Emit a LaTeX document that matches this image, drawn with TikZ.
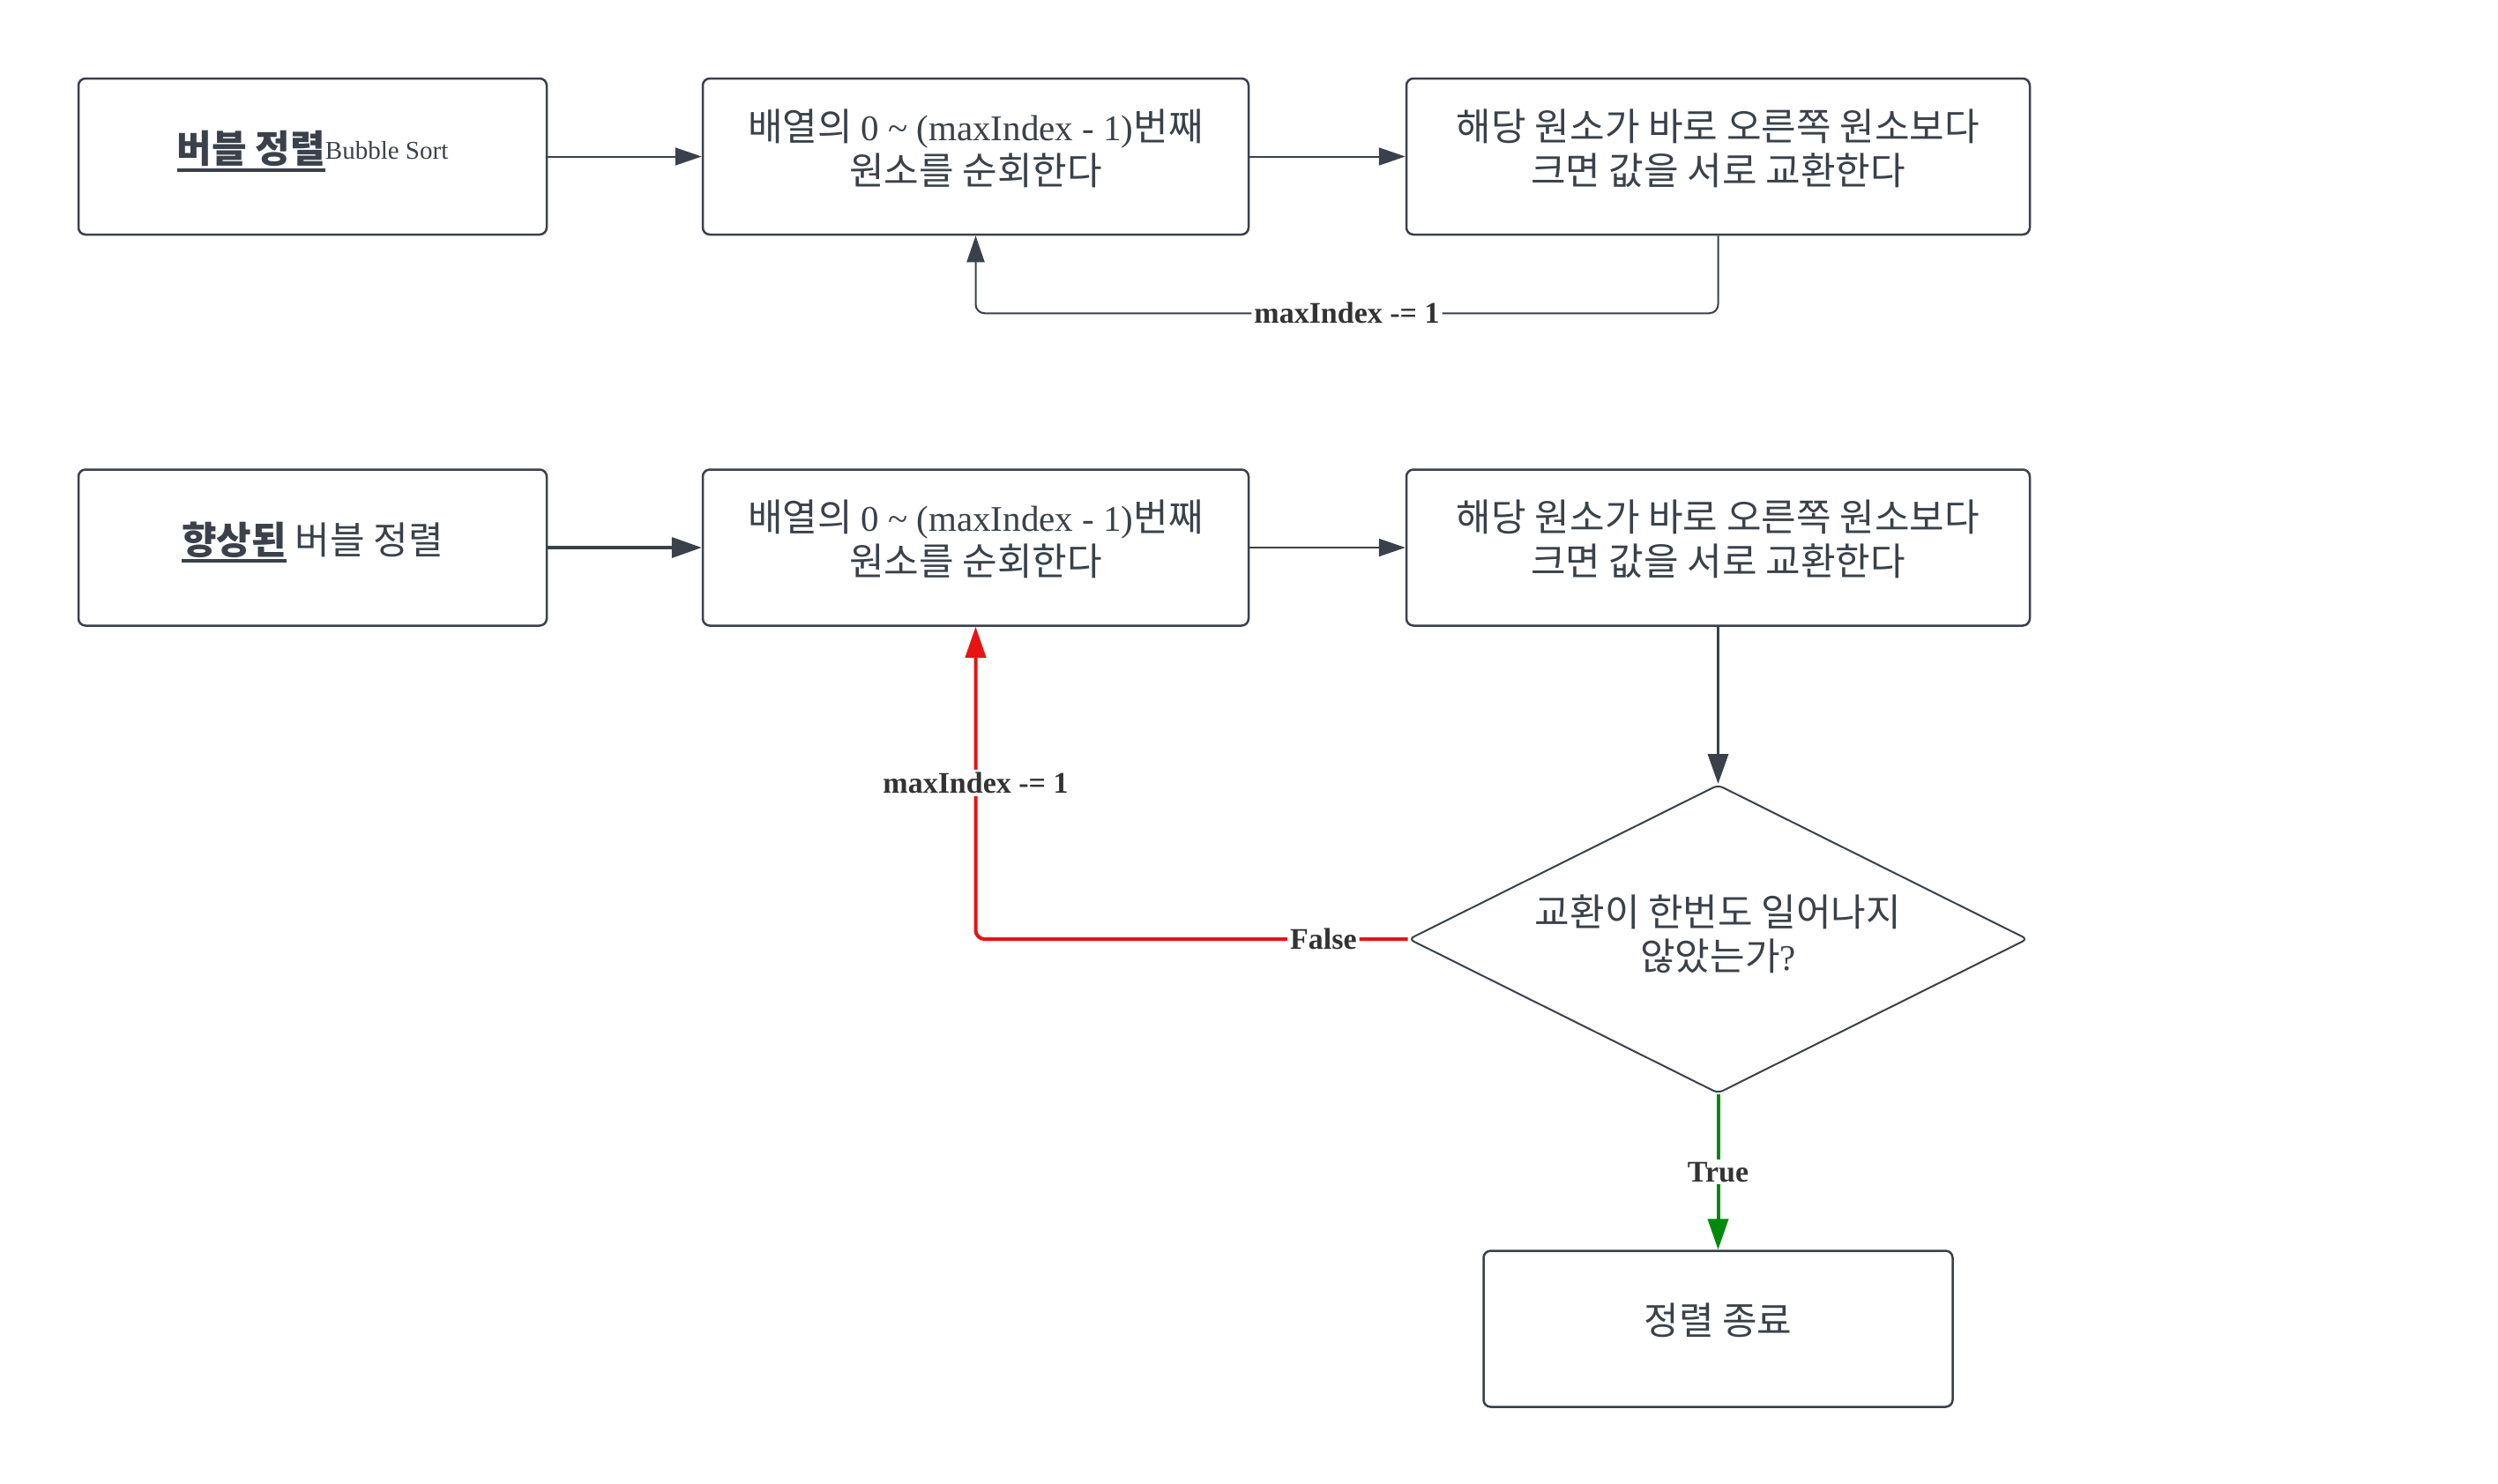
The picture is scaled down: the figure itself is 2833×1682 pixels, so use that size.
\documentclass[tikz,border=0pt]{standalone}
\usepackage{fontspec}
\setmainfont{Liberation Serif}
\newfontfamily\kr{Noto Sans CJK KR}[Scale=1.05]
\usetikzlibrary{arrows.meta,shapes.geometric}
\definecolor{lc}{HTML}{3A414A}
\definecolor{txt}{HTML}{333333}
\definecolor{lred}{HTML}{E81313}
\definecolor{lgreen}{HTML}{008A0E}
\newcommand\myul[1]{\setbox0\hbox{#1}\rlap{\rule[-5pt]{\wd0}{2pt}}\box0}
\newcommand\bxfont{\fontsize{20.5pt}{25pt}\selectfont}
\begin{document}
\begin{tikzpicture}[x=0.5pt,y=-0.5pt,
  box/.style={draw=lc, line width=1.25pt, rounded corners=4pt, fill=white, align=center, text=lc, font=\kr\bxfont, minimum height=88.5pt, inner sep=0pt, text depth=11pt},
  dec/.style={draw=lc, line width=1pt, shape=diamond, rounded corners=3pt, minimum width=351pt, minimum height=175pt, inner sep=0pt},
  dtext/.style={align=center, text=lc, font=\kr\bxfont, inner sep=0pt},
  lbl/.style={fill=white, text=txt, font=\rmfamily\bfseries\fontsize{17pt}{20pt}\selectfont, inner sep=1.5pt},
  thinarr/.style={draw=lc, line width=1pt, -{Triangle[length=15pt,width=10pt]}},
  thickarr/.style={draw=lc, line width=1.8pt, -{Triangle[length=17pt,width=11.5pt]}},
  redarr/.style={draw=lred, line width=2pt, rounded corners=5pt, -{Triangle[length=17.5pt,width=11.5pt]}},
  greenarr/.style={draw=lgreen, line width=2pt, -{Triangle[length=17.5pt,width=11.5pt]}},
]
\fill[white] (0,0) rectangle (2833,1682);
\useasboundingbox (0,0) rectangle (2833,1682);

% row 1
\node[box, minimum width=265.5pt] (a1) at (354.5,177.5) {{\bfseries\myul{버블 정렬}}\raisebox{2pt}{\rmfamily\fontsize{14.5pt}{17pt}\selectfont Bubble Sort}};
\node[box, minimum width=309.5pt] (a2) at (1106.5,177.5) {배열의 {\rmfamily 0 \textasciitilde{} (maxIndex - 1)}번째\\원소를 순회한다};
\node[box, minimum width=353.5pt] (a3) at (1948.5,177.5) {해당 원소가 바로 오른쪽 원소보다\\크면 값을 서로 교환한다};

% row 2
\node[box, minimum width=265.5pt] (b1) at (354.5,621) {{\bfseries\myul{향상된}} 버블 정렬};
\node[box, minimum width=309.5pt] (b2) at (1106.5,621) {배열의 {\rmfamily 0 \textasciitilde{} (maxIndex - 1)}번째\\원소를 순회한다};
\node[box, minimum width=353.5pt] (b3) at (1948.5,621) {해당 원소가 바로 오른쪽 원소보다\\크면 값을 서로 교환한다};
\node[dec] (d) at (1948.5,1065) {};
\node[dtext] (dt) at ([yshift=3pt]d.center) {교환이 한번도 일어나지\\않았는가{\rmfamily ?}};
\node[box, minimum width=266pt] (e) at (1948.5,1507) {정렬 종료};

% connectors row 1
\draw[thinarr] (a1) -- (a2);
\draw[thinarr] (a2) -- (a3);
\draw[thinarr, rounded corners=5pt] (a3.south) -- ++(0,88) -| node[lbl,pos=0.25]{maxIndex -= 1} (a2.south);

% connectors row 2
\draw[thickarr] (b1) -- (b2);
\draw[thinarr] (b2) -- (b3);
\draw[thickarr] (b3.south) -- (d.north);
\draw[redarr] (d.west) -- node[lbl,pos=0.195]{False} (d.west -| b2.south) -- node[lbl]{maxIndex -= 1} (b2.south);
\draw[greenarr] (d.south) -- node[lbl]{True} (e.north);
\end{tikzpicture}
\end{document}
